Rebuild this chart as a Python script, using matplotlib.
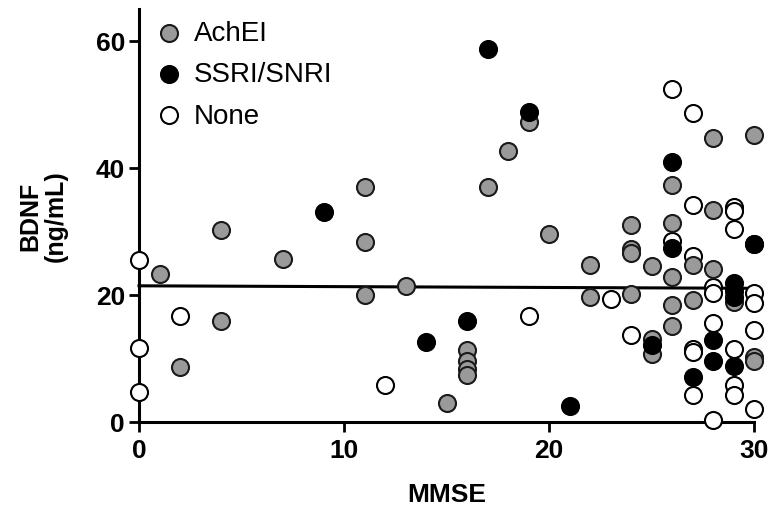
import matplotlib
matplotlib.use('Agg')
import matplotlib.pyplot as plt

plt.rcParams['font.family'] = ['Liberation Sans', 'DejaVu Sans']

# AchEI (grey)
ach_x = [1, 2, 4, 4, 7, 11, 11, 11, 13, 15, 16, 16, 16, 16, 17, 18, 19, 20,
         22, 22, 24, 24, 24, 24, 25, 25, 25, 26, 26, 26, 26, 26, 27, 27,
         28, 28, 28, 29, 30, 30, 30, 30]
ach_y = [23.3, 8.6, 30.2, 15.8, 25.7, 37.0, 28.3, 20.0, 21.4, 2.9, 11.3, 9.5, 8.3, 7.4, 37.0, 42.7, 47.2, 29.6,
         24.7, 19.6, 31.0, 27.2, 26.6, 20.1, 24.5, 13.0, 10.7, 37.3, 31.3, 22.8, 18.3, 15.1, 24.6, 19.1,
         44.7, 33.4, 24.1, 18.8, 45.1, 28.0, 10.2, 9.6]

# SSRI/SNRI (black)
ssri_x = [9, 14, 16, 17, 19, 21, 25, 26, 26, 27, 28, 28, 29, 29, 29, 29, 30]
ssri_y = [33.1, 12.6, 15.8, 58.7, 48.8, 2.5, 12.0, 40.9, 27.3, 7.0, 12.8, 9.6, 21.8, 20.6, 19.6, 8.7, 28.0]

# None (white)
none_x = [0, 0, 0, 2, 12, 19, 23, 24, 26, 26, 27, 27, 27, 27, 27, 27, 28, 28, 28, 28,
          29, 29, 29, 29, 29, 29, 30, 30, 30, 30]
none_y = [25.5, 11.6, 4.6, 16.6, 5.7, 16.6, 19.4, 13.7, 52.4, 28.4, 48.6, 34.2, 26.1, 11.5, 11.0, 4.2,
          21.2, 20.2, 15.6, 0.2, 33.8, 33.2, 30.4, 11.5, 5.7, 4.2, 20.2, 18.7, 14.4, 2.0]

# regression line
fit_intercept = 21.4
fit_slope = -0.013
fit_x = [0, 30]

fig = plt.figure(figsize=(7.71, 5.10), dpi=100)
ax = fig.add_axes([0.1803, 0.1712, 0.7977, 0.8092])

ms = 150
lw = 1.5
ax.scatter(none_x, none_y, s=ms, facecolor='white', edgecolor='black', linewidth=lw,
           clip_on=False, zorder=3, label='None')
ax.scatter(ach_x, ach_y, s=ms, facecolor='#9a9a9a', edgecolor='#1a1a1a', linewidth=lw,
           clip_on=False, zorder=4, label='AchEI')
ax.scatter(ssri_x, ssri_y, s=ms, facecolor='black', edgecolor='black', linewidth=lw,
           clip_on=False, zorder=5, label='SSRI/SNRI')

fit_y = [fit_intercept + fit_slope * v for v in fit_x]
ax.plot(fit_x, fit_y, color='black', linewidth=2.2, zorder=2, clip_on=False)

ax.set_xlim(0, 30)
ax.set_ylim(0, 65)
ax.set_xticks([0, 10, 20, 30])
ax.set_yticks([0, 20, 40, 60])
ax.spines['top'].set_visible(False)
ax.spines['right'].set_visible(False)
ax.spines['left'].set_linewidth(2.2)
ax.spines['bottom'].set_linewidth(2.2)
ax.tick_params(direction='out', length=7, width=2, pad=3, labelsize=19)
ax.tick_params(axis='x', pad=5)
for lab in ax.get_xticklabels() + ax.get_yticklabels():
    lab.set_fontweight('bold')

ax.set_xlabel('MMSE', fontsize=19, fontweight='bold', labelpad=14)
ax.set_ylabel('BDNF\n(ng/mL)', fontsize=18, fontweight='bold', labelpad=20, linespacing=1.1)

handles, labels = ax.get_legend_handles_labels()
order = [1, 2, 0]
ax.legend([handles[i] for i in order], [labels[i] for i in order], loc='upper left',
          bbox_to_anchor=(0.003, 1.0), frameon=False, fontsize=20, handletextpad=0.3,
          handlelength=1.2, labelspacing=0.55, borderaxespad=0.0, scatterpoints=1)

plt.savefig('out.png', dpi=100)
